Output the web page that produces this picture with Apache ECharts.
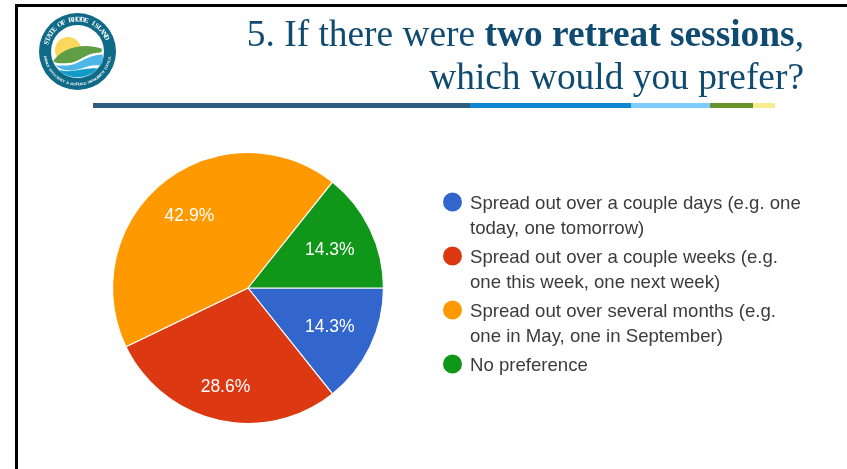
<!DOCTYPE html>
<html><head><meta charset="utf-8">
<style>html,body{margin:0;padding:0;background:#fff}#c{width:847px;height:469px}</style>
<script src="https://cdn.jsdelivr.net/npm/echarts@6/dist/echarts.min.js"></script>
</head><body><div id="c"></div>
<script>
const categories = [
  'Spread out over a couple days (e.g. one\ntoday, one tomorrow)',
  'Spread out over a couple weeks (e.g.\none this week, one next week)',
  'Spread out over several months (e.g.\none in May, one in September)',
  'No preference'
];
const values = [14.3, 28.6, 42.9, 14.3];
const colors = ['#3366cc', '#dc3912', '#ff9900', '#109618'];
const titleLine1 = ['5. If there were ', 'two retreat sessions', ','];
const titleLine2 = 'which would you prefer?';
const ruleColors = ['#2f5d7e', '#0e86d4', '#7fcdff', '#66942a', '#f7ec8f'];
const ruleStops = [93, 470, 631, 710, 753, 775];
const sealTop = 'STATE OF RHODE ISLAND';
const sealBottom = 'ENERGY EFFICIENCY & RESOURCE MANAGEMENT COUNCIL';

const PIE_C = [248, 288], PIE_R = 135.5;
const LABEL_RADII = [87, 97, 90, 87];
const LABEL_NUDGE_Y = [0, 0, 2, 2];
const LOGO = [77.5, 51.5];
const legendIcon = 'path://M22,0 L22,0 Z M0,10.25 A9.5,9.5 0 1 1 19,10.25 A9.5,9.5 0 1 1 0,10.25 Z M22,49 L22,49 Z';

function arcText(str, radius, a0, a1, top, size) {
  const n = str.length;
  return str.split('').map((ch, i) => {
    const a = (a0 + (a1 - a0) * (i + 0.5) / n) * Math.PI / 180;
    return {
      type: 'text', silent: true,
      x: LOGO[0] + radius * Math.cos(a), y: LOGO[1] + radius * Math.sin(a),
      rotation: top ? -(a + Math.PI / 2) : -(a - Math.PI / 2),
      style: { text: ch, fill: '#ffffff', font: 'bold ' + size + 'px "Liberation Serif"', align: 'center', verticalAlign: 'middle' }
    };
  });
}
let shapeId = 0;
function lp(path, fill) {
  const name = 'logoShape' + (shapeId++);
  echarts.graphic.registerShape(name, echarts.graphic.extendPath(path, {}));
  return { type: name, silent: true, style: { fill } };
}
const [lx, ly] = LOGO;
const logo = [
  { type: 'circle', silent: true, shape: { cx: lx, cy: ly, r: 38.5 }, style: { fill: '#0f6a88' } },
  { type: 'circle', silent: true, shape: { cx: lx, cy: ly, r: 26.5 }, style: { fill: '#ffffff' } },
  { type: 'circle', silent: true, shape: { cx: lx - 9.5, cy: ly - 1.5, r: 13 }, style: { fill: '#fbd75b' } },
  lp(`M${lx-24.5},${ly+10} C${lx-18},${ly-2} ${lx+4},${ly-10} ${lx+24},${ly-3} C${lx+25},${ly-1} ${lx+24},${ly} ${lx+23},${ly+1} C${lx+8},${ly+1} ${lx+2},${ly+11} ${lx-9},${ly+11.5} C${lx-15},${ly+12} ${lx-21},${ly+12} ${lx-24.5},${ly+10} Z`, '#5f9e45'),
  lp(`M${lx-10},${ly+14} C${lx+2},${ly+13} ${lx+8},${ly+4} ${lx+25},${ly+3} C${lx+26},${ly+9} ${lx+25},${ly+12} ${lx+23},${ly+14} C${lx+10},${ly+12} ${lx+4},${ly+19} ${lx-8},${ly+19} C${lx-14},${ly+19} ${lx-18},${ly+17} ${lx-22},${ly+14} Z`, '#4db6e6'),
  lp(`M${lx-19},${ly+18} C${lx-8},${ly+23} ${lx+8},${ly+15} ${lx+20},${ly+17} C${lx+12},${ly+28} ${lx-10},${ly+29} ${lx-19},${ly+18} Z`, '#119cc7')
].concat(arcText(sealTop, 32, -168, -22, true, 7))
 .concat(arcText(sealBottom, 33, 172, 8, false, 3.6));

const rules = ruleColors.map((c, i) => ({
  type: 'rect', silent: true,
  shape: { x: ruleStops[i], y: 103, width: ruleStops[i + 1] - ruleStops[i], height: 5 },
  style: { fill: c }
}));
const frame = [
  { type: 'rect', silent: true, shape: { x: 15, y: 4, width: 832, height: 3 }, style: { fill: '#000' } },
  { type: 'rect', silent: true, shape: { x: 15, y: 4, width: 3, height: 465 }, style: { fill: '#000' } }
];

const titleRich = {
  n: { fontFamily: 'Liberation Serif', fontSize: 37.4, fontWeight: 'normal', color: '#0f4a70' },
  b: { fontFamily: 'Liberation Serif', fontSize: 37.4, fontWeight: 'bold', color: '#0f4a70' }
};
const chart = echarts.init(document.getElementById('c'), null, { renderer: 'canvas' });
chart.setOption({
  animation: false,
  backgroundColor: '#ffffff',
  color: colors,
  title: [
    { right: 43, top: 18, padding: 0,
      text: `{n|${titleLine1[0]}}{b|${titleLine1[1]}}{n|${titleLine1[2]}}`,
      textStyle: { fontWeight: 'normal', rich: titleRich } },
    { right: 43, top: 61, padding: 0,
      text: `{n|${titleLine2}}`,
      textStyle: { fontWeight: 'normal', rich: titleRich } }
  ],
  legend: {
    orient: 'vertical', left: 443, top: 191.75, padding: 0,
    itemWidth: 22, itemHeight: 49, itemGap: 5,
    selectedMode: false,
    itemStyle: { borderWidth: 0 },
    data: categories.map(n => ({ name: n, icon: legendIcon })),
    formatter: n => n.includes('\n') ? n : n + '\n ',
    textStyle: { fontFamily: 'Liberation Sans', fontSize: 18.6, color: '#3b3b3b', lineHeight: 24.5 }
  },
  series: [{
    type: 'pie',
    center: PIE_C, radius: [0, PIE_R],
    startAngle: 0, clockwise: true,
    data: categories.map((n, i) => ({ name: n, value: values[i] })),
    itemStyle: { borderColor: '#fff', borderWidth: 1.2 },
    label: { position: 'inside', formatter: '{c}%', color: '#fff', fontFamily: 'Liberation Sans', fontSize: 17.5 },
    labelLine: { show: false },
    labelLayout(p) {
      const r = p.labelRect;
      const k = LABEL_RADII[p.dataIndex] / (PIE_R / 2) - 1;
      return { dx: (r.x + r.width / 2 - PIE_C[0]) * k, dy: (r.y + r.height / 2 - PIE_C[1]) * k + LABEL_NUDGE_Y[p.dataIndex] };
    },
    emphasis: { disabled: true }
  }],
  graphic: { elements: frame.concat(rules, logo) }
});
</script></body></html>
